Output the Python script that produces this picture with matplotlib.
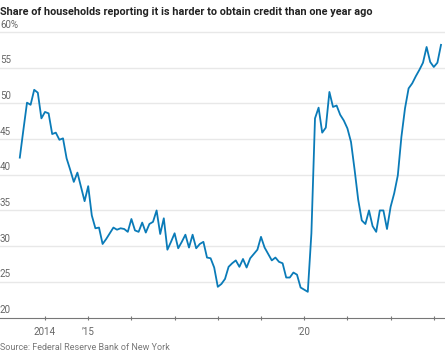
import matplotlib
matplotlib.use("Agg")
import matplotlib.pyplot as plt
from matplotlib import font_manager

# ---- data (monthly, Jun 2013 - Mar 2023) ----
start_year = 2013
start_month = 6
values = [
    # 2013 Jun-Dec
    42.4, 46.3, 50.1, 49.8, 51.9, 51.5, 47.9,
    # 2014
    48.8, 48.6, 45.7, 45.9, 44.9, 45.1, 42.3, 40.7, 39.0, 40.3, 38.3, 36.3,
    # 2015
    38.4, 34.3, 32.5, 32.6, 30.3, 31.0, 31.8, 32.6, 32.3, 32.5, 32.4, 32.0,
    # 2016
    33.8, 32.2, 32.0, 33.3, 31.9, 33.1, 33.4, 35.0, 31.7, 33.9, 29.5, 30.6,
    # 2017
    31.8, 29.7, 30.6, 31.6, 29.8, 31.6, 29.7, 30.3, 30.6, 28.4, 28.3, 27.0,
    # 2018
    24.3, 24.7, 25.4, 27.1, 27.6, 28.0, 27.1, 28.2, 27.0, 28.3, 28.9, 29.5,
    # 2019
    31.3, 29.8, 28.9, 28.0, 28.4, 27.8, 27.6, 25.6, 25.6, 26.3, 26.0, 24.2,
    # 2020
    23.9, 23.6, 31.8, 47.9, 49.4, 45.9, 46.6, 51.6, 49.5, 49.7, 48.4, 47.6,
    # 2021
    46.5, 44.6, 40.7, 36.5, 33.6, 33.1, 35.0, 32.8, 32.0, 35.0, 35.0, 32.4,
    # 2022
    35.5, 37.4, 39.9, 45.3, 49.3, 52.1, 52.8, 53.8, 54.7, 55.7, 57.9, 55.8,
    # 2023 Jan-Mar
    55.1, 55.7, 58.2,
]
dates = [start_year + (start_month - 1 + i) / 12.0 for i in range(len(values))]

y_ticks = [20, 25, 30, 35, 40, 45, 50, 55, 60]
y_tick_labels = ["20", "25", "30", "35", "40", "45", "50", "55", "60%"]
x_ticks = list(range(2014, 2024))
x_tick_labels = {2014: "2014", 2015: "\u201915", 2020: "\u201920"}

title = "Share of households reporting it is harder to obtain credit than one year ago"
source = "Source: Federal Reserve Bank of New York"

# ---- fonts ----
avail = {f.name for f in font_manager.fontManager.ttflist}
fam = [f for f in ["Liberation Sans Narrow", "Roboto", "DejaVu Sans"] if f in avail]
plt.rcParams["font.family"] = fam

W, H = 445, 352
fig = plt.figure(figsize=(W / 100, H / 100), dpi=100)
y_top, y_bot = 32, 317.5
ax = fig.add_axes([0, 1 - y_bot / H, 1, (y_bot - y_top) / H])

ax.plot(dates, values, color="#0a7bb8", lw=1.3, solid_joinstyle="round", clip_on=False, zorder=3)

x0 = 2014 - 45 / 43.2
x1 = 2014 + 400 / 43.2
ax.set_xlim(x0, x1)
ax.set_ylim(20, 60)

for s in ["top", "right", "left"]:
    ax.spines[s].set_visible(False)
ax.spines["bottom"].set_color("#777777")
ax.spines["bottom"].set_linewidth(0.8)

ax.set_yticks(y_ticks)
ax.tick_params(axis="y", length=0, labelleft=False)
for v in y_ticks[1:]:
    ax.axhline(v, color="#e8e8e8", lw=1.0, zorder=1, clip_on=False)
for v, lab in zip(y_ticks, y_tick_labels):
    ax.text(0.0, v + 0.35, lab, transform=ax.get_yaxis_transform(), ha="left", va="bottom",
            fontsize=7, color="#666666")

ax.set_xticks(x_ticks)
ax.set_xticklabels([x_tick_labels.get(t, "") for t in x_ticks])
ax.tick_params(axis="x", direction="inout", length=3, width=0.8, color="#777777",
               labelsize=7, labelcolor="#666666", pad=5)

fig.text(0.0, 1 - 12 / H, title, ha="left", va="center", fontsize=7.8, fontweight="bold", color="#222222")
fig.text(0.0, 1 - 347 / H, source, ha="left", va="center", fontsize=6.5, color="#777777")

fig.savefig("out.png", dpi=100)
